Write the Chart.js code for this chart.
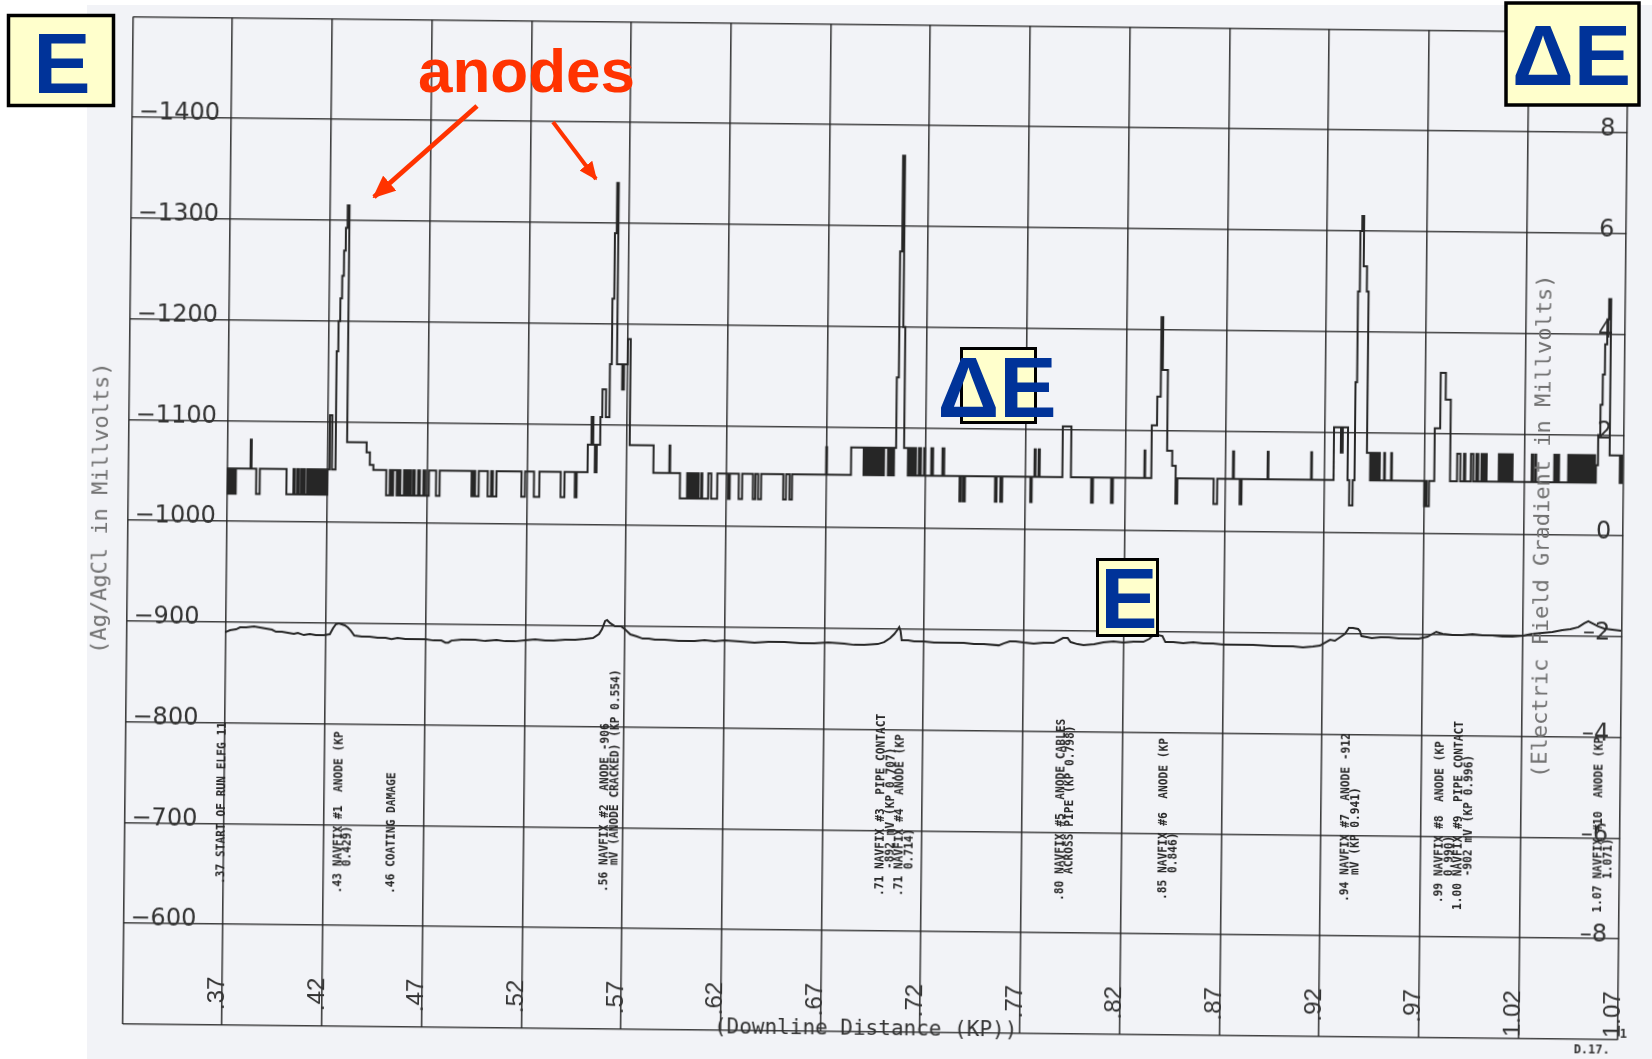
<!DOCTYPE html>
<html>
<head>
<meta charset="utf-8">
<title>Pipeline survey – E and ΔE</title>
<script src="https://cdn.jsdelivr.net/npm/chart.js@4.4.1/dist/chart.umd.min.js"></script>
<style>
  html, body { margin: 0; padding: 0; background: #ffffff; }
  #page { position: relative; width: 1652px; height: 1059px; overflow: hidden; background: #ffffff; }
  #paper { position: absolute; left: 87px; top: 5px; width: 1565px; height: 1054px; background: #f2f3f7; }
  #sheet { position: absolute; left: 0; top: 0; width: 1652px; height: 1059px;
           transform: rotate(0.6deg); transform-origin: 881.5px 526px; }
  #overlay { position: absolute; left: 0; top: 0; }
</style>
</head>
<body>
<div id="page">
  <div id="paper"></div>
  <div id="sheet"><canvas id="chart" width="1652" height="1059"></canvas></div>
  <svg id="overlay" width="1652" height="1059" xmlns="http://www.w3.org/2000/svg">
    <defs>
      <marker id="head" markerWidth="4.6" markerHeight="4" refX="4.2" refY="2" orient="auto" markerUnits="strokeWidth">
        <path d="M0,0 L4.6,2 L0,4 z" fill="#ff3300"/>
      </marker>
    </defs>
    <g font-family="'Liberation Sans', Arial, sans-serif" font-weight="bold">
      <rect x="8.5" y="15.5" width="105" height="90" fill="#ffffcc" stroke="#000" stroke-width="3.5"/>
      <text x="62" y="93" font-size="86" fill="#003399" text-anchor="middle">E</text>

      <rect x="1506" y="3" width="133" height="102" fill="#ffffcc" stroke="#000" stroke-width="3.5"/>
      <text x="1571.5" y="85" font-size="86" fill="#003399" text-anchor="middle">ΔE</text>

      <rect x="961.5" y="348.5" width="74" height="74" fill="#ffffcc" stroke="#000" stroke-width="3"/>
      <text x="997" y="417" font-size="86" fill="#003399" text-anchor="middle">ΔE</text>

      <rect x="1097.5" y="559.5" width="60" height="76" fill="#ffffcc" stroke="#000" stroke-width="3"/>
      <text x="1129" y="628" font-size="86" fill="#003399" text-anchor="middle">E</text>

      <text x="418" y="92" font-size="62" fill="#ff3300">anodes</text>
    </g>
    <line x1="477" y1="106" x2="374" y2="197" stroke="#ff3300" stroke-width="5" marker-end="url(#head)"/>
    <line x1="553" y1="122" x2="596" y2="179" stroke="#ff3300" stroke-width="4" marker-end="url(#head)"/>
  </svg>
</div>
<script>
// Survey traces along the downline distance (KP).
// deltaE: electric field gradient (mV), drawn as the plotter's stepped trace.
// potential: pipe-to-electrolyte potential E, Ag/AgCl (mV).
const deltaE = [
  [.3695,1.05],[.3700,.55],[.3705,1.05],[.3709,.55],[.3714,1.05],[.3718,.55],[.3723,1.05],[.3727,.55],[.3732,1.05],[.3736,.55],[.3741,1.05],
  [.3814,1.63],[.3819,1.05],[.3843,.55],[.3861,1.05],
  [.3995,.55],[.4030,1.05],[.4036,.55],[.4048,1.05],[.4055,.55],[.4066,1.05],[.4072,.55],[.4082,1.05],[.4088,.55],[.4100,1.05],
  [.4105,.55],[.4110,1.05],[.4114,.55],[.4119,1.05],[.4123,.55],[.4128,1.05],[.4132,.55],[.4137,1.05],[.4141,.55],[.4146,1.05],
  [.4150,.55],[.4155,1.05],[.4159,.55],[.4164,1.05],[.4168,.55],[.4173,1.05],[.4177,.55],[.4182,1.05],[.4186,.55],[.4191,1.05],[.4195,.55],
  [.4200,1.05],[.4210,2.13],[.4222,1.05],
  [.4240,3.40],[.4248,4.00],[.4256,4.45],[.4264,4.90],[.4272,5.40],[.4280,5.85],[.4288,6.30],[.4297,1.60],
  [.4395,1.40],[.4412,1.15],[.4430,1.05],
  [.4495,.55],[.4513,1.05],[.4521,.55],[.4530,1.05],[.4548,.55],[.4557,1.05],[.4566,.55],[.4584,1.05],[.4593,.55],[.4600,1.05],
  [.4606,.55],[.4613,1.05],[.4618,.55],[.4629,1.05],[.4638,.55],[.4655,1.05],[.4664,.55],[.4682,1.05],[.4691,.55],[.4709,1.05],
  [.4745,.55],[.4763,1.05],[.4923,.55],[.4932,1.05],[.4941,.55],[.4959,1.05],[.5004,.55],[.5021,1.05],[.5030,.55],[.5048,1.05],
  [.5173,.55],[.5191,1.05],[.5236,.55],[.5263,1.05],[.5370,.55],[.5389,1.05],[.5441,.55],[.5450,1.05],
  [.5504,1.60],[.5522,2.15],[.5531,1.60],[.5540,1.05],[.5549,1.60],[.5566,2.15],[.5575,2.70],[.5593,2.15],
  [.5611,3.20],[.5620,4.50],[.5629,5.80],[.5638,6.80],[.5646,3.20],[.5673,2.70],[.5682,3.20],[.5700,3.70],[.5714,1.60],
  [.5834,1.05],[.5914,1.60],[.5918,1.05],[.5968,.55],
  [.6004,1.05],[.6013,.55],[.6022,1.05],[.6030,.55],[.6039,1.05],[.6048,.55],[.6057,1.05],[.6062,.55],[.6075,1.05],[.6080,.55],[.6110,1.05],[.6125,.55],
  [.6155,1.05],
  [.6209,.55],[.6218,1.05],[.6263,.55],[.6280,1.05],[.6334,.55],[.6346,1.05],[.6360,.55],[.6375,1.05],[.6486,.55],[.6500,1.05],[.6518,.55],[.6530,1.05],
  [.6700,1.60],[.6704,1.05],
  [.6825,1.60],
  [.6888,1.05],[.6895,1.60],[.6902,1.05],[.6910,1.60],[.6916,1.05],[.6925,1.60],[.6932,1.05],[.6940,1.60],[.6947,1.05],[.6955,1.60],
  [.6962,1.05],[.6970,1.60],[.6980,1.05],[.6990,1.60],[.7010,1.05],[.7020,1.60],[.7030,1.05],[.7040,1.60],
  [.7050,3.00],[.7060,5.50],[.7070,7.40],[.7080,4.00],[.7090,1.60],
  [.7110,1.05],[.7120,1.60],[.7130,1.05],[.7140,1.60],[.7150,1.05],[.7165,1.60],[.7175,1.05],
  [.7191,1.60],[.7195,1.05],[.7227,1.60],[.7236,1.05],[.7283,1.60],[.7292,1.05],
  [.7370,.55],[.7378,1.05],[.7389,.55],[.7397,1.05],[.7548,.55],[.7556,1.05],[.7575,.55],[.7584,1.05],[.7725,.55],[.7732,1.05],
  [.7745,1.60],[.7750,1.05],[.7765,1.60],[.7771,1.05],
  [.7885,2.06],[.7928,1.05],
  [.8030,.55],[.8039,1.05],[.8130,.55],[.8139,1.05],
  [.8296,1.60],[.8300,1.05],[.8331,2.10],[.8357,2.67],[.8374,4.25],[.8383,3.20],[.8409,1.60],[.8435,1.30],[.8453,.55],[.8462,1.05],
  [.8644,.55],[.8662,1.05],[.8740,1.60],[.8745,1.05],[.8775,.55],[.8784,1.05],[.8914,1.60],[.8918,1.05],[.9132,1.60],[.9136,1.05],
  [.9245,2.10],[.9280,1.60],[.9289,2.10],[.9315,1.05],[.9324,.55],[.9341,1.05],
  [.9350,3.00],[.9358,4.80],[.9367,6.00],[.9376,6.30],[.9385,5.30],[.9402,4.80],[.9411,1.60],
  [.9428,1.05],[.9434,1.60],[.9440,1.05],[.9446,1.60],[.9452,1.05],[.9457,1.60],[.9463,1.05],
  [.9472,1.60],[.9476,1.05],[.9498,1.60],[.9502,1.05],[.9533,1.60],[.9537,1.05],
  [.9700,.55],[.9706,1.05],[.9712,.55],[.9724,1.05],[.9750,2.10],[.9777,3.20],[.9803,2.67],[.9829,1.05],
  [.9864,1.60],[.9880,1.05],[.9898,1.60],[.9905,1.05],[.9933,1.60],[.9945,1.05],[.9960,1.60],[.9970,1.05],[.9986,1.60],[.9995,1.05],[1.0003,1.60],[1.0012,1.05],
  [1.0073,1.60],[1.0079,1.05],[1.0085,1.60],[1.0091,1.05],[1.0097,1.60],[1.0103,1.05],[1.0109,1.60],[1.0115,1.05],[1.0121,1.60],[1.0127,1.05],[1.0133,1.60],[1.0142,1.05],
  [1.0238,1.60],[1.0245,1.05],[1.0256,1.60],[1.0260,1.05],[1.0351,1.60],[1.0360,1.05],[1.0369,1.60],[1.0375,1.05],
  [1.0421,1.60],[1.0430,1.05],[1.0440,1.60],[1.0448,1.05],[1.0458,1.60],[1.0466,1.05],[1.0476,1.60],[1.0484,1.05],[1.0494,1.60],[1.0502,1.05],
  [1.0512,1.60],[1.0518,1.05],[1.0524,1.60],[1.0530,1.05],[1.0536,1.60],[1.0542,1.05],[1.0548,1.60],[1.0555,1.05],
  [1.0560,1.40],[1.0570,2.00],[1.0580,2.60],[1.0590,3.20],[1.0600,3.80],[1.0610,4.30],[1.0618,4.70],[1.0628,1.60],
  [1.0680,1.05],[1.0685,1.60],[1.0690,1.05],[1.0695,1.05]
];

const potential = [
  [.3695,-890],[.3720,-892],[.3750,-893],[.3770,-895],[.3800,-895],[.3840,-896],[.3870,-895],[.3900,-894],[.3930,-893],[.3950,-891],
  [.3980,-891],[.4010,-890],[.4040,-889],[.4060,-890],[.4090,-888],[.4120,-889],[.4150,-888],[.4190,-888],[.4220,-889],[.4236,-895],
  [.4250,-899],[.4265,-900],[.4280,-899],[.4295,-898],[.4310,-896],[.4325,-893],[.4343,-888],[.4380,-887],[.4420,-887],[.4460,-886],
  [.4500,-886],[.4530,-885],[.4560,-886],[.4600,-885],[.4650,-885],[.4700,-885],[.4740,-884],[.4780,-884],[.4800,-882],[.4815,-882],
  [.4830,-884],[.4880,-885],[.4950,-885],[.5000,-884],[.5057,-885],[.5100,-884],[.5150,-884],[.5200,-885],[.5250,-886],[.5300,-885],
  [.5343,-885],[.5400,-886],[.5450,-886],[.5500,-887],[.5540,-888],[.5570,-892],[.5585,-897],[.5600,-905],[.5610,-906],[.5625,-903],
  [.5650,-900],[.5680,-900],[.5700,-897],[.5727,-892],[.5760,-890],[.5789,-888],[.5820,-888],[.5850,-887],[.5900,-887],[.5970,-886],
  [.6050,-886],[.6100,-887],[.6150,-886],[.6200,-887],[.6280,-886],[.6350,-885],[.6420,-886],[.6500,-886],[.6580,-885],[.6650,-885],
  [.6720,-886],[.6800,-885],[.6850,-884],[.6900,-884],[.6968,-885],[.7000,-887],[.7030,-891],[.7050,-895],[.7065,-899],[.7075,-902],
  [.7082,-898],[.7088,-889],[.7120,-889],[.7150,-888],[.7200,-888],[.7250,-887],[.7320,-887],[.7400,-887],[.7450,-886],[.7500,-886],
  [.7575,-885],[.7600,-887],[.7630,-889],[.7660,-889],[.7700,-888],[.7750,-887],[.7800,-888],[.7850,-888],[.7870,-890],[.7897,-893],
  [.7920,-893],[.7935,-889],[.7970,-887],[.8000,-886],[.8053,-887],[.8100,-889],[.8150,-890],[.8200,-889],[.8250,-890],[.8300,-890],
  [.8330,-893],[.8345,-896],[.8370,-897],[.8395,-896],[.8410,-890],[.8450,-890],[.8500,-889],[.8550,-890],[.8600,-889],[.8650,-889],
  [.8700,-888],[.8780,-888],[.8850,-888],[.8950,-887],[.9000,-887],[.9050,-887],[.9100,-886],[.9150,-887],[.9185,-888],[.9210,-891],
  [.9236,-894],[.9260,-893],[.9289,-897],[.9310,-900],[.9330,-906],[.9350,-906],[.9376,-905],[.9385,-903],[.9393,-898],[.9420,-897],
  [.9445,-896],[.9490,-897],[.9530,-897],[.9580,-896],[.9630,-896],[.9680,-896],[.9724,-898],[.9750,-901],[.9768,-903],[.9800,-901],
  [.9850,-900],[.9900,-900],[.9950,-901],[1.0000,-900],[1.0050,-900],[1.0100,-899],[1.0150,-899],[1.0203,-900],[1.0250,-902],[1.0300,-903],
  [1.0350,-904],[1.0400,-906],[1.0440,-907],[1.0480,-909],[1.0510,-913],[1.0530,-915],[1.0550,-913],[1.0580,-910],[1.0610,-908],[1.0650,-907],
  [1.0695,-906]
];

// Axis extents and tick steps
const kpRange = [0.32, 1.07];
const kpStep = 0.05;
const eRange = [-1500, -500];
const eStep = 100;
const deRange = [-10, 10];
const deStep = 2;

// Event notes printed by the plotter (KP of the text column, E where the text starts)
const notes = [
  { kp: .3690, mv: -640, lines: ['.37 START OF RUN ELFG 11'] },
  { kp: .4273, mv: -632, lines: ['.43 NAVFIX #1  ANODE (KP', '    0.429)'] },
  { kp: .4540, mv: -632, lines: ['.46 COATING DAMAGE'] },
  { kp: .5610, mv: -636, lines: ['.56 NAVFIX #2  ANODE -906', '    mV (ANODE CRACKED) (KP 0.554)'] },
  { kp: .6993, mv: -635, lines: ['.71 NAVFIX #3  PIPE CONTACT', '    -892 mV (KP 0.707)', '.71 NAVFIX #4  ANODE (KP', '    0.714)'] },
  { kp: .7895, mv: -632, lines: ['.80 NAVFIX #5  ANODE CABLES', '    ACROSS PIPE (KP 0.798)'] },
  { kp: .8412, mv: -634, lines: ['.85 NAVFIX #6  ANODE (KP', '    0.846)'] },
  { kp: .9325, mv: -634, lines: ['.94 NAVFIX #7  ANODE -912', '    mV (KP 0.941)'] },
  { kp: .9797, mv: -627, lines: [' .99 NAVFIX #8  ANODE (KP', '     0.990)', '1.00 NAVFIX #9  PIPE CONTACT', '     -902 mV (KP 0.996)'] },
  { kp: 1.0595, mv: -626, lines: ['1.07 NAVFIX #10  ANODE (KP', '     1.071)'] }
];

const leftTitle = '(Ag/AgCl in Millvolts)';
const rightTitle = '(Electric Field Gradient in Millvolts)';
const bottomTitle = '(Downline Distance (KP))';

const ink = '#262626';
const gridInk = 'rgba(38,38,38,0.88)';

function kpLabel(v) {
  const r = Math.round(v * 100);
  if (r === 32) return '';
  return r < 100 ? '.' + r : (r / 100).toFixed(2);
}

function verticalText(ctx, text, x, y) {
  ctx.save();
  ctx.translate(x, y);
  ctx.rotate(-Math.PI / 2);
  ctx.fillText(text, 0, 0);
  ctx.restore();
}

// Mirrored value axes sit inside the plot and take no layout width
const noWidth = scale => { scale.width = 0; };

// Plotter notes, axis captions and sheet marks drawn on top of the chart
const sheetText = {
  id: 'sheetText',
  afterDatasetsDraw(chart) {
    const { ctx, chartArea: a, scales } = chart;
    const xs = scales.x, ys = scales.yL;
    ctx.save();
    ctx.fillStyle = ink;
    ctx.font = 'bold 12px "DejaVu Sans Mono"';
    ctx.textAlign = 'left';
    ctx.textBaseline = 'middle';
    const adv = ctx.measureText('0').width;
    for (const n of notes) {
      ctx.save();
      ctx.translate(xs.getPixelForValue(n.kp), ys.getPixelForValue(n.mv));
      ctx.rotate(-Math.PI / 2);
      ctx.scale(6.75 / adv, 1);
      n.lines.forEach((s, i) => ctx.fillText(s, 0, i * 9.5));
      ctx.restore();
    }

    const midY = (a.top + a.bottom) / 2;
    ctx.textAlign = 'center';
    ctx.fillStyle = '#727272';
    ctx.font = '22px "DejaVu Sans Mono"';
    verticalText(ctx, leftTitle, a.left - 26.5, midY - 12);
    verticalText(ctx, rightTitle, a.right - 80, midY - 9);

    ctx.fillStyle = '#333';
    ctx.font = '21px "DejaVu Sans Mono"';
    ctx.textBaseline = 'alphabetic';
    ctx.fillText(bottomTitle, (a.left + a.right) / 2 - 4.5, a.bottom + 3);

    ctx.font = 'bold 12px "DejaVu Sans Mono"';
    ctx.fillText('D.17.', a.right - 26, a.bottom + 14);
    ctx.fillText('1', a.right + 5.5, a.bottom - 2);
    ctx.restore();
  }
};

new Chart(document.getElementById('chart'), {
  type: 'line',
  data: {
    datasets: [
      {
        label: 'ΔE',
        data: deltaE.map(([x, y]) => ({ x, y })),
        yAxisID: 'yR',
        stepped: true,
        borderColor: ink,
        borderWidth: 2,
        pointRadius: 0,
        fill: false
      },
      {
        label: 'E',
        data: potential.map(([x, y]) => ({ x, y })),
        yAxisID: 'yL',
        borderColor: ink,
        borderWidth: 2,
        pointRadius: 0,
        tension: 0,
        fill: false
      }
    ]
  },
  options: {
    responsive: false,
    animation: false,
    devicePixelRatio: 1,
    layout: { padding: { left: 127.5, right: 13, top: 24.5, bottom: 27 } },
    plugins: { legend: { display: false }, tooltip: { enabled: false } },
    scales: {
      x: {
        type: 'linear',
        min: kpRange[0], max: kpRange[1],
        position: { yL: -548 },
        border: { display: false },
        grid: { color: gridInk, lineWidth: 1.6, drawTicks: false },
        ticks: {
          stepSize: kpStep, autoSkip: false, maxTicksLimit: 40,
          minRotation: 90, maxRotation: 90, padding: 0, labelOffset: -5,
          color: '#333', font: { family: '"Liberation Sans"', size: 24 },
          callback: v => kpLabel(v)
        }
      },
      yL: {
        type: 'linear', position: 'left', reverse: true,
        min: eRange[0], max: eRange[1],
        border: { display: false },
        grid: { color: gridInk, lineWidth: 1.6, drawTicks: false },
        afterFit: noWidth,
        ticks: {
          stepSize: eStep, mirror: true, padding: 7, labelOffset: -4,
          color: '#333', font: { family: '"DejaVu Sans"', size: 24 },
          callback: v => (v === eRange[0] || v === eRange[1]) ? '' : '\u2212' + Math.abs(v)
        }
      },
      yR: {
        type: 'linear', position: 'right',
        min: deRange[0], max: deRange[1],
        border: { display: false },
        grid: { display: false, drawTicks: false },
        afterFit: noWidth,
        ticks: {
          stepSize: deStep, mirror: true, padding: -12, labelOffset: -3,
          color: '#333', font: { family: '"DejaVu Sans"', size: 24 },
          callback: v => Math.abs(v) === 10 ? '' : (v < 0 ? '\u2013' + Math.abs(v) : String(v))
        }
      }
    }
  },
  plugins: [sheetText]
});
</script>
</body>
</html>
